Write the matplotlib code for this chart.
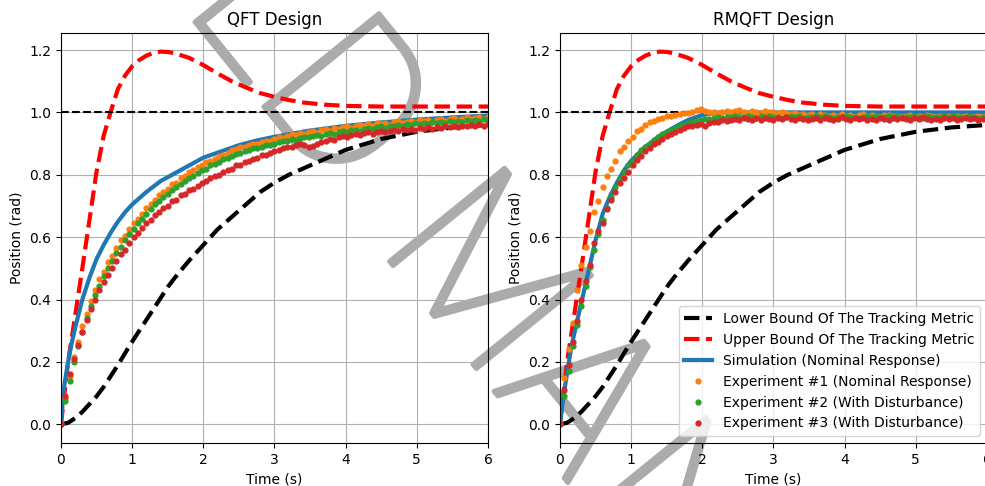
import numpy as np
import matplotlib.pyplot as plt
import matplotlib.patheffects as pe

# time base for the bounds and the simulated responses (s)
t_bound = [0, 0.1, 0.2, 0.3, 0.4, 0.5, 0.6, 0.7, 0.8, 0.9, 1.0, 1.1, 1.2, 1.3, 1.4, 1.5,
           1.6, 1.8, 2.0, 2.2, 2.4, 2.6, 2.8, 3.0, 3.2, 3.4, 3.7, 4.0, 4.5, 5.0, 5.5, 6.0]
upper_bound = [0, 0.2, 0.35, 0.5, 0.655, 0.81, 0.925, 1.003, 1.075, 1.118, 1.148, 1.168,
               1.182, 1.191, 1.195, 1.194, 1.19, 1.175, 1.152, 1.125, 1.1, 1.08, 1.062,
               1.05, 1.04, 1.032, 1.025, 1.021, 1.019, 1.019, 1.019, 1.019]
lower_bound = [0, 0.005, 0.02, 0.04, 0.065, 0.09, 0.12, 0.155, 0.19, 0.228, 0.265, 0.3,
               0.335, 0.37, 0.405, 0.44, 0.47, 0.525, 0.575, 0.625, 0.665, 0.705, 0.745,
               0.775, 0.8, 0.82, 0.85, 0.88, 0.915, 0.938, 0.952, 0.96]
reference = 1.0

t_sim = [0, 0.02, 0.05, 0.1, 0.15, 0.2, 0.3, 0.4, 0.5, 0.6, 0.7, 0.8, 0.9, 1.0, 1.2, 1.4,
         1.6, 1.8, 2.0, 2.25, 2.5, 2.75, 3.0, 3.5, 4.0, 4.5, 5.0, 5.5, 6.0]
qft_sim = [0, 0.06, 0.13, 0.2, 0.26, 0.31, 0.4, 0.47, 0.53, 0.575, 0.615, 0.65, 0.68, 0.705,
           0.745, 0.78, 0.805, 0.83, 0.855, 0.875, 0.895, 0.91, 0.922, 0.942, 0.957, 0.968,
           0.977, 0.984, 0.99]
rmqft_sim = [0, 0.04, 0.09, 0.165, 0.235, 0.29, 0.39, 0.49, 0.59, 0.675, 0.73, 0.775, 0.815,
             0.845, 0.89, 0.925, 0.952, 0.976, 0.992, 1.0, 1.0, 1.0, 1.0, 1.0, 1.0, 1.0,
             1.0, 1.0, 1.0]

# measured responses, sampled every 0.06 s
t_exp = np.round(np.arange(101) * 0.06, 2)

qft_exp1 = [0.0, 0.085, 0.155, 0.215, 0.265, 0.315, 0.355, 0.395, 0.43, 0.465,
            0.49, 0.52, 0.54, 0.565, 0.59, 0.605, 0.625, 0.645, 0.66, 0.675,
            0.695, 0.705, 0.72, 0.735, 0.745, 0.755, 0.77, 0.775, 0.79, 0.795,
            0.81, 0.815, 0.825, 0.83, 0.84, 0.845, 0.85, 0.86, 0.865, 0.87,
            0.88, 0.882, 0.89, 0.888, 0.895, 0.9, 0.898, 0.905, 0.91, 0.907,
            0.915, 0.92, 0.918, 0.925, 0.93, 0.927, 0.935, 0.932, 0.938, 0.94,
            0.935, 0.943, 0.947, 0.942, 0.95, 0.948, 0.953, 0.955, 0.95, 0.957,
            0.96, 0.955, 0.962, 0.958, 0.965, 0.962, 0.967, 0.96, 0.968, 0.972,
            0.965, 0.97, 0.974, 0.968, 0.975, 0.972, 0.977, 0.97, 0.976, 0.98,
            0.974, 0.978, 0.982, 0.976, 0.98, 0.984, 0.978, 0.982, 0.986, 0.98,
            0.984]
qft_exp2 = [0.0, 0.075, 0.14, 0.2, 0.25, 0.295, 0.34, 0.38, 0.415, 0.445,
            0.475, 0.5, 0.525, 0.55, 0.57, 0.59, 0.61, 0.625, 0.645, 0.66,
            0.675, 0.69, 0.705, 0.715, 0.73, 0.74, 0.75, 0.76, 0.77, 0.78,
            0.79, 0.795, 0.805, 0.815, 0.82, 0.83, 0.835, 0.84, 0.85, 0.855,
            0.86, 0.868, 0.87, 0.875, 0.88, 0.885, 0.887, 0.89, 0.895, 0.897,
            0.9, 0.905, 0.907, 0.91, 0.915, 0.912, 0.918, 0.922, 0.92, 0.925,
            0.928, 0.926, 0.932, 0.935, 0.93, 0.937, 0.94, 0.938, 0.943, 0.945,
            0.942, 0.948, 0.95, 0.946, 0.953, 0.955, 0.95, 0.957, 0.955, 0.96,
            0.958, 0.962, 0.96, 0.965, 0.962, 0.966, 0.963, 0.968, 0.965, 0.97,
            0.967, 0.972, 0.968, 0.974, 0.97, 0.975, 0.972, 0.977, 0.973, 0.978,
            0.976]
qft_exp3 = [0.0, 0.09, 0.16, 0.21, 0.255, 0.295, 0.335, 0.37, 0.4, 0.43,
            0.455, 0.48, 0.5, 0.525, 0.545, 0.56, 0.58, 0.6, 0.615, 0.63,
            0.645, 0.655, 0.67, 0.68, 0.695, 0.7, 0.715, 0.72, 0.735, 0.74,
            0.75, 0.755, 0.765, 0.775, 0.78, 0.79, 0.795, 0.8, 0.81, 0.815,
            0.82, 0.83, 0.832, 0.84, 0.845, 0.85, 0.855, 0.862, 0.865, 0.87,
            0.875, 0.88, 0.885, 0.89, 0.888, 0.895, 0.9, 0.895, 0.89, 0.893,
            0.898, 0.905, 0.91, 0.915, 0.912, 0.92, 0.925, 0.922, 0.928, 0.93,
            0.927, 0.933, 0.936, 0.932, 0.938, 0.94, 0.936, 0.942, 0.945, 0.94,
            0.946, 0.944, 0.948, 0.945, 0.95, 0.947, 0.952, 0.948, 0.953, 0.95,
            0.955, 0.952, 0.957, 0.953, 0.958, 0.955, 0.96, 0.957, 0.962, 0.958,
            0.963]

rmqft_exp1 = [0.0, 0.148, 0.24, 0.325, 0.43, 0.51, 0.57, 0.62, 0.68, 0.715,
              0.76, 0.795, 0.82, 0.845, 0.875, 0.89, 0.91, 0.92, 0.94, 0.948,
              0.96, 0.968, 0.972, 0.98, 0.982, 0.988, 0.99, 0.993, 0.995, 0.998,
              0.997, 1.002, 1.008, 1.01, 1.006, 1.0, 1.003, 0.998, 1.002, 1.005,
              1.0, 1.004, 1.008, 1.002, 0.999, 1.006, 1.003, 0.998, 1.004, 1.0,
              1.003, 0.997, 1.002, 0.999, 0.994, 0.998, 0.993, 0.996, 0.991, 0.995,
              0.99, 0.994, 0.992, 0.988, 0.993, 0.99, 0.995, 0.989, 0.992, 0.987,
              0.991, 0.994, 0.988, 0.992, 0.99, 0.986, 0.991, 0.993, 0.988, 0.99,
              0.985, 0.99, 0.992, 0.987, 0.99, 0.986, 0.991, 0.988, 0.984, 0.989,
              0.986, 0.99, 0.985, 0.988, 0.984, 0.989, 0.986, 0.983, 0.988, 0.985,
              0.987]
rmqft_exp2 = [0.0, 0.09, 0.17, 0.25, 0.32, 0.38, 0.445, 0.505, 0.56, 0.61,
              0.655, 0.695, 0.73, 0.76, 0.79, 0.81, 0.83, 0.845, 0.865, 0.88,
              0.89, 0.9, 0.912, 0.92, 0.93, 0.937, 0.945, 0.95, 0.955, 0.96,
              0.965, 0.968, 0.972, 0.975, 0.978, 0.98, 0.982, 0.985, 0.983, 0.987,
              0.985, 0.988, 0.984, 0.987, 0.99, 0.986, 0.983, 0.988, 0.985, 0.989,
              0.984, 0.987, 0.982, 0.986, 0.989, 0.985, 0.988, 0.983, 0.987, 0.984,
              0.988, 0.985, 0.99, 0.986, 0.983, 0.987, 0.985, 0.989, 0.984, 0.987,
              0.983, 0.986, 0.989, 0.985, 0.988, 0.984, 0.987, 0.99, 0.985, 0.988,
              0.984, 0.987, 0.985, 0.989, 0.986, 0.983, 0.988, 0.985, 0.987, 0.984,
              0.988, 0.986, 0.989, 0.985, 0.987, 0.984, 0.988, 0.986, 0.983, 0.987,
              0.985]
rmqft_exp3 = [0.0, 0.11, 0.19, 0.265, 0.33, 0.4, 0.46, 0.51, 0.58, 0.62,
              0.645, 0.69, 0.72, 0.745, 0.775, 0.79, 0.81, 0.83, 0.848, 0.86,
              0.875, 0.885, 0.9, 0.905, 0.915, 0.925, 0.93, 0.938, 0.945, 0.95,
              0.955, 0.958, 0.96, 0.962, 0.958, 0.965, 0.968, 0.97, 0.975, 0.972,
              0.977, 0.98, 0.976, 0.982, 0.978, 0.975, 0.981, 0.977, 0.983, 0.979,
              0.976, 0.981, 0.978, 0.984, 0.979, 0.976, 0.982, 0.978, 0.975, 0.98,
              0.983, 0.977, 0.981, 0.978, 0.975, 0.98, 0.984, 0.979, 0.976, 0.981,
              0.978, 0.983, 0.977, 0.98, 0.976, 0.982, 0.979, 0.975, 0.981, 0.978,
              0.983, 0.979, 0.976, 0.981, 0.978, 0.984, 0.979, 0.976, 0.98, 0.977,
              0.982, 0.978, 0.981, 0.977, 0.98, 0.983, 0.978, 0.981, 0.977, 0.98,
              0.978]

titles = ['QFT Design', 'RMQFT Design']
sims = [qft_sim, rmqft_sim]
exps = [[qft_exp1, qft_exp2, qft_exp3], [rmqft_exp1, rmqft_exp2, rmqft_exp3]]
exp_labels = ['Experiment #1 (Nominal Response)', 'Experiment #2 (With Disturbance)',
              'Experiment #3 (With Disturbance)']
exp_colors = ['tab:orange', 'tab:green', 'tab:red']

# background stamp letters: (letter, x px, y px) of the baseline centre, from top-left
stamp = [('L', 216, 48), ('D', 294, 144), ('M', 433, 315), ('A', 531, 437), ('N', 624, 552)]
stamp_grey = '#ababab'

fig = plt.figure(figsize=(9.85, 4.86), dpi=100)
W, H = 985, 486
for ch, px, py in stamp:
    fig.text(px / W, 1 - py / H, ch, rotation=-51, rotation_mode='anchor',
             ha='center', va='baseline', fontsize=150, family='Roboto',
             fontweight='light', color=stamp_grey, zorder=-1,
             path_effects=[pe.withStroke(linewidth=3.5, foreground=stamp_grey)])

ax1 = fig.add_axes([0.0619, 0.0885, 0.4335, 0.8436])
ax2 = fig.add_axes([0.5685, 0.0885, 0.4335, 0.8436])

for i, ax in enumerate([ax1, ax2]):
    ax.set_facecolor('none')
    ax.plot(t_bound, lower_bound, 'k--', lw=3, label='Lower Bound Of The Tracking Metric')
    ax.plot(t_bound, upper_bound, 'r--', lw=3, label='Upper Bound Of The Tracking Metric')
    ax.axhline(reference, color='k', ls='--', lw=1.5)
    ax.plot(t_sim, sims[i], color='tab:blue', lw=3, label='Simulation (Nominal Response)')
    for y, lab, c in zip(exps[i], exp_labels, exp_colors):
        ax.plot(t_exp, y, '.', color=c, ms=7, label=lab)
    ax.set_xlim(0, 6)
    ax.set_title(titles[i])
    ax.set_xlabel('Time (s)')
    ax.set_ylabel('Position (rad)')
    ax.grid(True)

ax2.legend(loc='lower right')

fig.savefig('out.png', dpi=100)
